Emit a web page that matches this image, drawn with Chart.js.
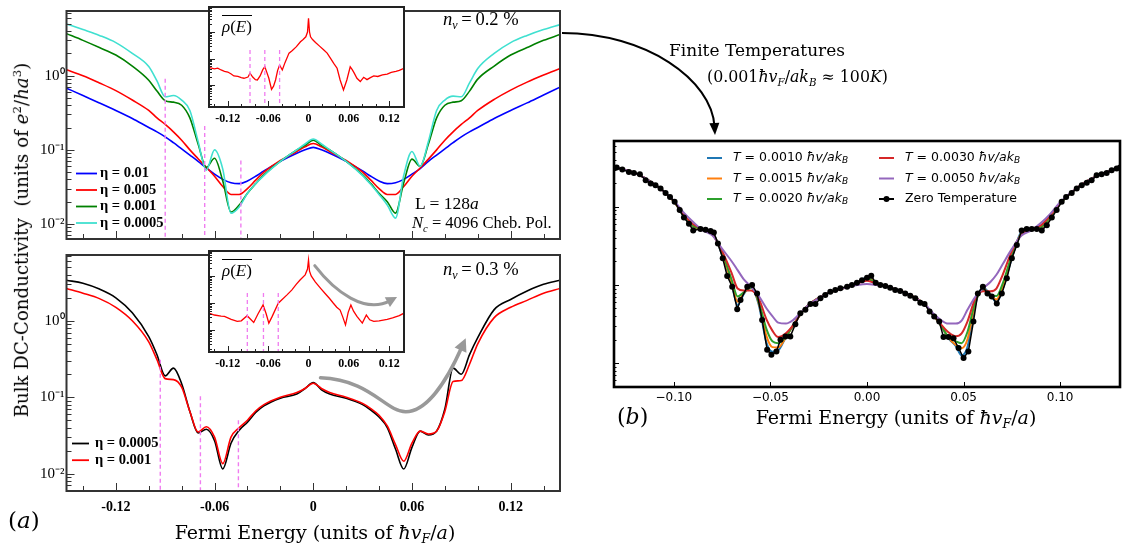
<!DOCTYPE html>
<html>
<head>
<meta charset="utf-8">
<title>Bulk DC-Conductivity</title>
<script src="https://cdn.jsdelivr.net/npm/chart.js@4.4.1/dist/chart.umd.min.js"></script>
<style>
  html, body { margin: 0; padding: 0; background: #fff; }
  #fig { position: relative; width: 1126px; height: 548px; overflow: hidden; }
  #fig canvas { position: absolute; }
  .t { position: absolute; white-space: nowrap; line-height: 1; color: #000; z-index: 5; }
  .t sub { font-size: 0.65em; vertical-align: -0.35em; line-height: 0; }
  .t sup { font-size: 0.65em; vertical-align: 0.6em; line-height: 0; }
  .serif { font-family: 'DejaVu Serif', serif; }
  .times { font-family: 'Liberation Serif', serif; }
  .bar { display: inline-block; border-top: 1px solid #000; padding-top: 2px; }
</style>
</head>
<body>
<div id="fig">
  <canvas id="condHigh" width="564" height="250" style="left:0;top:0"></canvas>
  <canvas id="condLow" width="564" height="280" style="left:0;top:244px"></canvas>
  <canvas id="dosHigh" width="215" height="128" style="left:195px;top:0"></canvas>
  <canvas id="dosLow" width="215" height="128" style="left:195px;top:244px"></canvas>
  <canvas id="thermal" width="564" height="548" style="left:562px;top:0"></canvas>

  <div class="t serif" style="left:-208px;top:231px;width:460px;text-align:center;font-size:18.2px;transform:rotate(-90deg)">Bulk DC-Conductivity&nbsp; (units of <i>e</i><sup>2</sup>/<i>ha</i><sup>3</sup>)</div>
  <div class="t serif" style="left:115px;top:523px;width:400px;text-align:center;font-size:19px">Fermi Energy (units of <i>ħv</i><sub><i>F</i></sub>/<i>a</i>)</div>
  <div class="t serif" style="left:8px;top:509px;font-size:23px">(<i>a</i>)</div>
  <div class="t serif" style="left:696px;top:408px;width:400px;text-align:center;font-size:19px">Fermi Energy (units of <i>ħv</i><sub><i>F</i></sub>/<i>a</i>)</div>
  <div class="t serif" style="left:617px;top:406px;font-size:22px">(<i>b</i>)</div>

  <div class="t times" style="left:443px;top:10px;font-size:18.5px"><i>n</i><sub><i>v</i></sub>&thinsp;=&thinsp;0.2 %</div>
  <div class="t times" style="left:443px;top:260px;font-size:18.5px"><i>n</i><sub><i>v</i></sub>&thinsp;=&thinsp;0.3 %</div>
  <div class="t times" style="left:415px;top:195px;font-size:17.5px">L = 128<i>a</i></div>
  <div class="t times" style="left:412px;top:215px;font-size:16.5px"><i>N</i><sub><i>c</i></sub> = 4096 Cheb. Pol.</div>
  <div class="t times" style="left:222px;top:15px;font-size:17px"><span class="bar"><i>ρ</i>(<i>E</i>)</span></div>
  <div class="t times" style="left:222px;top:259px;font-size:17px"><span class="bar"><i>ρ</i>(<i>E</i>)</span></div>

  <div class="t serif" style="left:669px;top:42px;font-size:17px">Finite Temperatures</div>
  <div class="t serif" style="left:707px;top:69px;font-size:15.8px">(0.001<i>ħv</i><sub><i>F</i></sub>/<i>ak</i><sub><i>B</i></sub> ≈ 100<i>K</i>)</div>
</div>
<script>
// Fermi energy grid shared by the conductivity curves of panel (a)
const energyA = [-0.15, -0.14, -0.13, -0.12, -0.11, -0.10,
  -0.095, -0.09, -0.085, -0.08, -0.075, -0.07, -0.065, -0.06, -0.055, -0.05, -0.045, -0.04, -0.035, -0.03,
  -0.02, -0.01, -0.005, 0, 0.005, 0.01, 0.02,
  0.03, 0.035, 0.04, 0.045, 0.05, 0.055, 0.06, 0.065, 0.07, 0.075, 0.08, 0.085, 0.09, 0.095,
  0.10, 0.11, 0.12, 0.13, 0.14, 0.15];

// n_v = 0.2 %, four values of the broadening eta
const sigmaEta01 = [0.68, 0.54, 0.43, 0.34, 0.265, 0.2,
  0.175, 0.15, 0.125, 0.103, 0.085, 0.07, 0.057, 0.047, 0.04, 0.036, 0.035, 0.038, 0.044, 0.052,
  0.07, 0.09, 0.1, 0.108, 0.1, 0.09, 0.07,
  0.052, 0.044, 0.038, 0.035, 0.036, 0.04, 0.047, 0.056, 0.07, 0.085, 0.103, 0.125, 0.15, 0.175,
  0.2, 0.265, 0.34, 0.43, 0.55, 0.7];
const sigmaEta005 = [1.2, 1.0, 0.8, 0.63, 0.47, 0.34,
  0.27, 0.22, 0.175, 0.135, 0.1, 0.076, 0.058, 0.044, 0.032, 0.025, 0.025, 0.03, 0.039, 0.05,
  0.072, 0.095, 0.11, 0.122, 0.11, 0.095, 0.072,
  0.05, 0.039, 0.03, 0.025, 0.025, 0.032, 0.044, 0.057, 0.075, 0.1, 0.135, 0.175, 0.22, 0.27,
  0.34, 0.48, 0.64, 0.82, 1.02, 1.25];
const sigmaEta001 = [3.7, 3.0, 2.4, 1.9, 1.35, 0.87,
  0.62, 0.46, 0.44, 0.4, 0.27, 0.12, 0.058, 0.077, 0.038, 0.0145, 0.018, 0.026, 0.035, 0.046,
  0.07, 0.1, 0.115, 0.135, 0.115, 0.1, 0.07,
  0.046, 0.035, 0.026, 0.02, 0.014, 0.036, 0.075, 0.06, 0.12, 0.27, 0.4, 0.44, 0.46, 0.62,
  0.9, 1.35, 1.9, 2.4, 3.0, 3.6];
const sigmaEta0005 = [5.0, 4.2, 3.5, 2.8, 2.0, 1.33,
  0.85, 0.52, 0.54, 0.47, 0.34, 0.13, 0.053, 0.1, 0.055, 0.014, 0.017, 0.026, 0.035, 0.045,
  0.07, 0.1, 0.12, 0.14, 0.12, 0.1, 0.07,
  0.045, 0.034, 0.025, 0.018, 0.012, 0.045, 0.095, 0.06, 0.13, 0.34, 0.47, 0.53, 0.52, 0.8,
  1.25, 2.0, 2.8, 3.5, 4.2, 4.9];

// n_v = 0.3 %
const sigmaLowEta0005 = [3.4, 3.1, 2.6, 2.0, 1.27, 0.62,
  0.36, 0.19, 0.24, 0.15, 0.065, 0.034, 0.038, 0.027, 0.0115, 0.025, 0.037, 0.047, 0.063, 0.077,
  0.097, 0.11, 0.13, 0.155, 0.125, 0.11, 0.097,
  0.08, 0.068, 0.055, 0.04, 0.021, 0.0115, 0.022, 0.036, 0.032, 0.036, 0.07, 0.24, 0.2, 0.36,
  0.6, 1.4, 1.9, 2.45, 3.0, 3.4];
const sigmaLowEta001 = [2.65, 2.3, 1.95, 1.5, 1.0, 0.53,
  0.31, 0.175, 0.17, 0.135, 0.065, 0.035, 0.041, 0.03, 0.0135, 0.03, 0.04, 0.05, 0.066, 0.08,
  0.1, 0.115, 0.13, 0.152, 0.13, 0.115, 0.1,
  0.083, 0.071, 0.058, 0.042, 0.024, 0.0145, 0.025, 0.036, 0.033, 0.036, 0.065, 0.16, 0.165, 0.27,
  0.5, 1.1, 1.5, 1.85, 2.3, 2.65];

// averaged density of states shown in the insets
const dosHighE = [-0.147, -0.14, -0.135, -0.13, -0.125, -0.12, -0.115, -0.111, -0.105, -0.1, -0.096, -0.09,
  -0.087, -0.083, -0.079, -0.076, -0.072, -0.068, -0.065, -0.062, -0.059, -0.055, -0.052, -0.049,
  -0.046, -0.043, -0.039, -0.035, -0.029, -0.024, -0.018, -0.012, -0.008, -0.004, -0.0015, 0,
  0.0015, 0.003, 0.006, 0.0104, 0.016, 0.022, 0.0277, 0.033, 0.0375, 0.0425, 0.047, 0.052, 0.057,
  0.062, 0.065, 0.068, 0.072, 0.077, 0.082, 0.087, 0.092, 0.097, 0.103, 0.11, 0.117, 0.123, 0.13,
  0.135, 0.142];
const dosHighRho = [0.045, 0.041, 0.043, 0.037, 0.033, 0.031, 0.026, 0.022, 0.021, 0.019, 0.018, 0.02,
  0.028, 0.02, 0.016, 0.0155, 0.022, 0.038, 0.049, 0.03, 0.018, 0.0069, 0.009, 0.0155,
  0.035, 0.057, 0.037, 0.07, 0.16, 0.2, 0.28, 0.43, 0.52, 0.66, 1.0, 3.3,
  1.0, 0.66, 0.52, 0.4, 0.3, 0.22, 0.16, 0.1, 0.066, 0.043, 0.0155, 0.0065, 0.0155,
  0.049, 0.038, 0.028, 0.018, 0.0135, 0.0195, 0.016, 0.019, 0.022, 0.021, 0.024, 0.026, 0.03, 0.033,
  0.036, 0.043];
const dosLowE = [-0.147, -0.14, -0.13, -0.125, -0.115, -0.106, -0.1, -0.0913, -0.0815, -0.075, -0.0676,
  -0.063, -0.059, -0.054, -0.045, -0.04, -0.032, -0.025, -0.018, -0.0126, -0.005, -0.0015, 0,
  0.0015, 0.004, 0.01, 0.018, 0.025, 0.031, 0.037, 0.042, 0.047, 0.051, 0.055, 0.059, 0.063,
  0.067, 0.072, 0.08, 0.086, 0.091, 0.097, 0.105, 0.117, 0.125, 0.135, 0.142];
const dosLowRho = [0.041, 0.036, 0.033, 0.032, 0.025, 0.021, 0.022, 0.034, 0.019, 0.04, 0.085,
  0.04, 0.018, 0.032, 0.098, 0.13, 0.2, 0.3, 0.5, 0.71, 1.1, 1.8, 3.9,
  1.5, 1.0, 0.6, 0.35, 0.22, 0.15, 0.098, 0.07, 0.055, 0.03, 0.0155, 0.045, 0.085,
  0.05, 0.032, 0.018, 0.036, 0.024, 0.021, 0.022, 0.025, 0.028, 0.034, 0.042];

// energies marked by the dashed lines, and how high each line reaches
const vhsHigh = [-0.09, -0.066, -0.044];
const vhsHighReach = [0.91, 0.21, 0.072];
const vhsLow = [-0.093, -0.0686, -0.0455];
const vhsLowReach = [0.31, 0.103, 0.05];
const vhsDosHigh = [-0.087, -0.065, -0.043];
const vhsDosLow = [-0.091, -0.067, -0.045];
const vhsDosReach = [0.21, 0.235];

// panel (b): zero temperature conductivity
const zeroE = [-0.1296, -0.1267, -0.1233, -0.1207, -0.1176, -0.1146, -0.112, -0.1095, -0.1069, -0.1043,
  -0.102, -0.0996, -0.097, -0.0948, -0.0922, -0.09, -0.0862, -0.0836, -0.081, -0.0793,
  -0.0772, -0.0747, -0.0724, -0.0698, -0.0672, -0.0655, -0.062, -0.0595, -0.0569, -0.0543,
  -0.0517, -0.0495, -0.0469, -0.0448, -0.0422, -0.0397, -0.0371, -0.0345, -0.0319, -0.0293,
  -0.0267, -0.0241, -0.0216, -0.019, -0.0164, -0.0138, -0.0103, -0.0078, -0.0052, -0.0026,
  0, 0.0022, 0.0045, 0.0069, 0.0095, 0.012, 0.0146, 0.0172, 0.0198, 0.0224,
  0.025, 0.0276, 0.0298, 0.0324, 0.0348, 0.0374, 0.0396, 0.0422, 0.0448, 0.0474,
  0.05, 0.0525, 0.0551, 0.0574, 0.06, 0.0624, 0.0646, 0.0672, 0.0698, 0.0724,
  0.075, 0.0776, 0.0801, 0.0827, 0.0853, 0.0879, 0.0905, 0.0931, 0.0957, 0.0982,
  0.1008, 0.1031, 0.106, 0.1086, 0.1112, 0.1138, 0.1163, 0.1189, 0.1215, 0.1241,
  0.1267, 0.1293, 0.131];
const zeroSigma = [3.19, 3.0, 2.8, 2.72, 2.62, 2.19, 1.99, 1.89, 1.72, 1.51,
  1.34, 1.16, 0.91, 0.73, 0.61, 0.5, 0.52, 0.51, 0.49, 0.47,
  0.34, 0.22, 0.13, 0.095, 0.049, 0.064, 0.095, 0.1, 0.078, 0.0357,
  0.0148, 0.0128, 0.0141, 0.0199, 0.0219, 0.0219, 0.0315, 0.0435, 0.048, 0.0572,
  0.0572, 0.0676, 0.0745, 0.082, 0.086, 0.091, 0.095, 0.1, 0.107, 0.115,
  0.124, 0.131, 0.107, 0.1, 0.097, 0.092, 0.086, 0.084, 0.078, 0.073,
  0.0676, 0.0594, 0.0572, 0.0456, 0.0394, 0.034, 0.0215, 0.0215, 0.0208, 0.0156,
  0.0116, 0.0141, 0.034, 0.078, 0.095, 0.078, 0.071, 0.058, 0.078, 0.122,
  0.22, 0.324, 0.5, 0.52, 0.52, 0.52, 0.5, 0.58, 0.73, 0.91,
  1.16, 1.34, 1.51, 1.72, 1.89, 2.03, 2.19, 2.54, 2.62, 2.72,
  2.94, 3.09, 3.19];

// panel (b): finite temperature curves on a common grid
const temps = ['0.0010', '0.0015', '0.0020', '0.0030', '0.0050'];
const energyB = [-0.13, -0.12, -0.11, -0.10, -0.095, -0.09, -0.085, -0.08, -0.075, -0.07,
  -0.067, -0.064, -0.06, -0.056, -0.052, -0.049, -0.046, -0.042, -0.038, -0.034, -0.03,
  -0.02, -0.01, -0.005, 0, 0.005, 0.01, 0.02,
  0.03, 0.034, 0.038, 0.042, 0.046, 0.049, 0.052, 0.056, 0.06, 0.064, 0.067,
  0.07, 0.075, 0.08, 0.085, 0.09, 0.095, 0.10, 0.11, 0.12, 0.13];
const sigmaT0010 = [3.2, 2.7, 1.95, 1.18, 0.76, 0.55, 0.52, 0.47, 0.24, 0.1,
  0.055, 0.075, 0.098, 0.055, 0.018, 0.014, 0.0145, 0.0215, 0.031, 0.044, 0.056,
  0.079, 0.095, 0.107, 0.125, 0.106, 0.096, 0.079,
  0.056, 0.042, 0.031, 0.021, 0.0165, 0.0125, 0.016, 0.055, 0.093, 0.075, 0.06,
  0.085, 0.22, 0.48, 0.52, 0.53, 0.72, 1.1, 1.85, 2.55, 3.1];
const sigmaT0015 = [3.2, 2.7, 1.95, 1.18, 0.77, 0.56, 0.52, 0.46, 0.25, 0.105,
  0.061, 0.078, 0.095, 0.058, 0.022, 0.016, 0.0158, 0.0215, 0.031, 0.044, 0.056,
  0.079, 0.095, 0.107, 0.122, 0.106, 0.096, 0.079,
  0.056, 0.042, 0.031, 0.0215, 0.017, 0.0155, 0.02, 0.058, 0.09, 0.073, 0.065,
  0.09, 0.23, 0.46, 0.52, 0.54, 0.73, 1.1, 1.85, 2.55, 3.1];
const sigmaT0020 = [3.2, 2.7, 1.95, 1.18, 0.78, 0.57, 0.52, 0.45, 0.26, 0.115,
  0.071, 0.08, 0.092, 0.06, 0.027, 0.019, 0.018, 0.022, 0.031, 0.044, 0.056,
  0.079, 0.095, 0.106, 0.12, 0.105, 0.096, 0.079,
  0.056, 0.042, 0.031, 0.022, 0.019, 0.018, 0.025, 0.06, 0.087, 0.075, 0.072,
  0.1, 0.24, 0.45, 0.52, 0.55, 0.75, 1.1, 1.85, 2.55, 3.1];
const sigmaT0030 = [3.2, 2.7, 1.95, 1.18, 0.8, 0.6, 0.52, 0.44, 0.27, 0.14,
  0.09, 0.085, 0.085, 0.066, 0.036, 0.026, 0.0215, 0.024, 0.031, 0.044, 0.056,
  0.079, 0.095, 0.105, 0.113, 0.104, 0.096, 0.079,
  0.056, 0.042, 0.032, 0.025, 0.022, 0.024, 0.034, 0.066, 0.083, 0.083, 0.09,
  0.13, 0.27, 0.44, 0.52, 0.58, 0.78, 1.12, 1.85, 2.55, 3.1];
const sigmaT0050 = [3.2, 2.7, 1.95, 1.2, 0.85, 0.64, 0.5, 0.43, 0.29, 0.2,
  0.155, 0.12, 0.095, 0.072, 0.05, 0.04, 0.033, 0.032, 0.036, 0.045, 0.056,
  0.079, 0.094, 0.1, 0.103, 0.1, 0.096, 0.079,
  0.056, 0.044, 0.036, 0.032, 0.032, 0.035, 0.048, 0.07, 0.09, 0.11, 0.135,
  0.18, 0.29, 0.43, 0.5, 0.62, 0.82, 1.15, 1.85, 2.55, 3.1];

// tick marks and labels
const ticksA = [-0.12, -0.06, 0, 0.06, 0.12];
const minorA = [-0.14, -0.10, -0.08, -0.04, -0.02, 0.02, 0.04, 0.08, 0.10, 0.14];
const ticksB = [-0.10, -0.05, 0, 0.05, 0.10];
const decades = [0.01, 0.1, 1];
const decadeLabels = { '0.01': '10⁻²', '0.1': '10⁻¹', '1': '10⁰' };

// axis ranges
const yHigh = [0.00627, 7.47];
const yLow = [0.00592, 7.26];
const yDosHigh = [0.00148, 8.8];
const yDosLow = [0.00154, 8.4];
const yThermal = [0.00494, 6.97];

function curve(label, xs, ys, color, order, width) {
  return {
    label, order,
    data: xs.map((x, i) => ({ x, y: ys[i] })),
    borderColor: color, backgroundColor: color,
    borderWidth: width || 1.6, pointRadius: 0,
    cubicInterpolationMode: 'monotone', fill: false
  };
}

function marker(x, reach, floor) {
  return {
    label: '', order: 0,
    data: [{ x, y: reach }, { x, y: floor }],
    borderColor: '#f07cf0', borderWidth: 1.4, borderDash: [4, 3], pointRadius: 0
  };
}

function energyAxis(min, max, ticks, font, padding, height, fmt) {
  if (!ticks) return { type: 'linear', min, max, display: false };
  return {
    type: 'linear', min, max,
    afterBuildTicks: s => { s.ticks = ticks.map(value => ({ value })); },
    afterFit: s => { s.height = height; },
    grid: { display: false, drawTicks: false }, border: { display: false },
    ticks: { font, padding, color: '#000', maxRotation: 0, autoSkip: false, callback: fmt }
  };
}

function logAxis(range) {
  return {
    type: 'logarithmic', min: range[0], max: range[1],
    afterBuildTicks: s => { s.ticks = decades.filter(v => v >= range[0] && v <= range[1]).map(value => ({ value })); },
    afterFit: s => { s.width = 66.5; },
    grid: { display: false, drawTicks: false }, border: { display: false },
    ticks: { font: { family: 'Liberation Serif', size: 15 }, color: '#000', padding: 2, callback: v => decadeLabels[String(v)] }
  };
}

const plainLabel = v => (v === 0 ? '0' : v.toFixed(2));

function drawLabel(ctx, text, x, y, L) {
  const m = text.match(/^T( = [\d.]+ )(ħv\/ak)_B$/);
  const parts = m
    ? [['T', 'italic ' + L.font, 0], [m[1], L.font, 0], [m[2], 'italic ' + L.font, 0], ['B', 'italic ' + L.small, 3]]
    : [[text, L.font, 0]];
  parts.forEach(([t, f, dy]) => {
    ctx.font = f;
    ctx.fillText(t, x, y + dy);
    x += ctx.measureText(t).width;
  });
}

function drawLegend(chart, L) {
  const ctx = chart.ctx;
  let n = 0;
  chart.data.datasets.forEach(ds => {
    if (!ds.label) return;
    const col = Math.floor(n / L.perCol), row = n % L.perCol;
    n++;
    const x = L.x + col * (L.colDx || 0), y = L.y + row * L.dy;
    ctx.setLineDash([]);
    ctx.strokeStyle = ds.borderColor;
    ctx.lineWidth = L.lineWidth;
    ctx.beginPath(); ctx.moveTo(x, y); ctx.lineTo(x + L.len, y); ctx.stroke();
    if (ds.pointRadius) {
      ctx.fillStyle = ds.borderColor;
      ctx.beginPath(); ctx.arc(x + L.len / 2, y, ds.pointRadius, 0, 2 * Math.PI); ctx.fill();
    }
    ctx.fillStyle = '#000';
    ctx.textBaseline = 'middle';
    ctx.textAlign = 'left';
    drawLabel(ctx, ds.label, x + L.gap, y, L);
  });
}

// bezier chain: start point, then (control, control, end) triples; filled head at the end
function drawArrow(ctx, ar, toPx) {
  const p = ar.pts.map(toPx);
  const n = p.length, tip = p[n - 1], prev = p[n - 2];
  const d = Math.hypot(tip[0] - prev[0], tip[1] - prev[1]);
  const ux = (tip[0] - prev[0]) / d, uy = (tip[1] - prev[1]) / d;
  const end = [tip[0] - ux * ar.head[0] * 0.7, tip[1] - uy * ar.head[0] * 0.7];
  ctx.setLineDash([]);
  ctx.strokeStyle = ar.color; ctx.fillStyle = ar.color;
  ctx.lineWidth = ar.width; ctx.lineCap = 'round';
  ctx.beginPath(); ctx.moveTo(p[0][0], p[0][1]);
  for (let i = 1; i + 2 < n; i += 3) {
    const e = i + 2 === n - 1 ? end : p[i + 2];
    ctx.bezierCurveTo(p[i][0], p[i][1], p[i + 1][0], p[i + 1][1], e[0], e[1]);
  }
  ctx.stroke();
  const bx = tip[0] - ux * ar.head[0], by = tip[1] - uy * ar.head[0];
  ctx.beginPath(); ctx.moveTo(tip[0], tip[1]);
  ctx.lineTo(bx - uy * ar.head[1], by + ux * ar.head[1]);
  ctx.lineTo(bx + uy * ar.head[1], by - ux * ar.head[1]);
  ctx.closePath(); ctx.fill();
}

// frame, inward ticks, legend and arrows for one panel
function decorations(cfg) {
  return {
    id: 'decorations',
    beforeDatasetsDraw(chart) {
      if (!cfg.fill) return;
      const { ctx, chartArea: a } = chart;
      ctx.save();
      ctx.fillStyle = cfg.fill;
      ctx.fillRect(a.left, a.top, a.width, a.height);
      ctx.restore();
    },
    afterDatasetsDraw(chart) {
      const { ctx, chartArea: a, scales } = chart;
      const sx = scales.x, sy = scales.y;
      ctx.save();
      ctx.strokeStyle = cfg.frame;
      ctx.lineWidth = 1;
      const xTick = (v, len) => {
        const p = Math.round(sx.getPixelForValue(v)) + 0.5;
        ctx.beginPath(); ctx.moveTo(p, a.bottom); ctx.lineTo(p, a.bottom - len); ctx.stroke();
      };
      cfg.xMajor.forEach(v => xTick(v, cfg.tick[0]));
      (cfg.xMinor || []).forEach(v => xTick(v, cfg.tick[1]));
      for (let dec = -4; dec <= 1; dec++) {
        for (let k = 1; k <= 9; k++) {
          const v = k * Math.pow(10, dec);
          if (v < sy.min || v > sy.max) continue;
          const p = Math.round(sy.getPixelForValue(v)) + 0.5;
          const len = k === 1 ? cfg.tick[0] : cfg.tick[1];
          ctx.beginPath(); ctx.moveTo(a.left, p); ctx.lineTo(a.left + len, p); ctx.stroke();
        }
      }
      ctx.lineWidth = cfg.frameWidth;
      ctx.strokeRect(a.left, a.top, a.width, a.height);
      if (cfg.legend) drawLegend(chart, cfg.legend);
      (cfg.arrows || []).forEach(ar => drawArrow(ctx, ar,
        ar.pixel ? (q => q) : (q => [sx.getPixelForValue(q[0]), sy.getPixelForValue(q[1])])));
      ctx.restore();
    }
  };
}

const baseOptions = (padding, scales) => ({
  responsive: false, animation: false,
  layout: { padding },
  plugins: { legend: { display: false }, tooltip: { enabled: false } },
  scales
});

const etaLegend = { perCol: 4, lineWidth: 1.8, font: 'bold 14.5px Liberation Serif' };

/* Panel (a), n_v = 0.2 % */
new Chart(document.getElementById('condHigh'), {
  type: 'line',
  data: {
    datasets: [
      curve('η = 0.01', energyA, sigmaEta01, '#0000ff', 4),
      curve('η = 0.005', energyA, sigmaEta005, '#ff0000', 3),
      curve('η = 0.001', energyA, sigmaEta001, '#008000', 2),
      curve('η = 0.0005', energyA, sigmaEta0005, '#40e0d0', 1),
      ...vhsHigh.map((e, i) => marker(e, vhsHighReach[i], yHigh[0]))
    ]
  },
  options: baseOptions({ top: 3, right: 4, bottom: 4, left: 0 }, {
    x: energyAxis(-0.15, 0.15, null),
    y: logAxis(yHigh)
  }),
  plugins: [decorations({
    frame: '#333', frameWidth: 2, tick: [8, 5], xMajor: ticksA, xMinor: minorA,
    legend: Object.assign({ x: 76, y: 173.5, dy: 16.5, len: 21, gap: 24 }, etaLegend)
  })]
});

/* Panel (a), n_v = 0.3 % */
new Chart(document.getElementById('condLow'), {
  type: 'line',
  data: {
    datasets: [
      curve('η = 0.0005', energyA, sigmaLowEta0005, '#000000', 2),
      curve('η = 0.001', energyA, sigmaLowEta001, '#ff0000', 1),
      ...vhsLow.map((e, i) => marker(e, vhsLowReach[i], yLow[0]))
    ]
  },
  options: baseOptions({ top: 3, right: 4, bottom: 0, left: 0 }, {
    x: energyAxis(-0.15, 0.15, ticksA, { family: 'Liberation Serif', size: 14, weight: 'bold' }, 8, 33, plainLabel),
    y: logAxis(yLow)
  }),
  plugins: [decorations({
    frame: '#333', frameWidth: 2, tick: [8, 5], xMajor: ticksA, xMinor: minorA,
    legend: Object.assign({ x: 72, y: 199.5, dy: 16.7, len: 17, gap: 23 }, etaLegend),
    arrows: [{
      color: '#999999', width: 3.5, head: [13, 6.5],
      pts: [[0.0044, 0.179], [0.0349, 0.169], [0.044, 0.0646], [0.0562, 0.0646],
            [0.0684, 0.0646], [0.0805, 0.150], [0.0927, 0.592]]
    }]
  })]
});

/* Insets: averaged density of states */
function dosChart(id, energies, rho, vhs, reach, range, height, arrows) {
  return new Chart(document.getElementById(id), {
    type: 'line',
    data: {
      datasets: [
        { label: '', order: 1, data: energies.map((x, i) => ({ x, y: rho[i] })),
          borderColor: '#ff0000', borderWidth: 1.3, pointRadius: 0, tension: 0 },
        ...vhs.map(e => Object.assign(marker(e, reach, range[0]), { borderWidth: 1.3 }))
      ]
    },
    options: baseOptions({ top: 7, right: 6, bottom: 0, left: 14 }, {
      x: energyAxis(-0.148, 0.142, ticksA, { family: 'Liberation Serif', size: 12, weight: 'bold' }, 5, height, plainLabel),
      y: { type: 'logarithmic', min: range[0], max: range[1], display: false }
    }),
    plugins: [decorations({
      fill: '#ffffff', frame: '#222', frameWidth: 2, tick: [6, 3], xMajor: ticksA, xMinor: minorA, arrows
    })]
  });
}
dosChart('dosHigh', dosHighE, dosHighRho, vhsDosHigh, vhsDosReach[0], yDosHigh, 21);
dosChart('dosLow', dosLowE, dosLowRho, vhsDosLow, vhsDosReach[1], yDosLow, 20, [{
  color: '#999999', width: 3, head: [11, 5.5],
  pts: [[0.0093, 2.41], [0.0394, 0.255], [0.084, 0.039], [0.1317, 0.167]]
}]);

/* Panel (b): finite temperatures */
const thermalColors = ['#1f77b4', '#ff7f0e', '#2ca02c', '#d62728', '#9467bd'];
const thermalSeries = [sigmaT0010, sigmaT0015, sigmaT0020, sigmaT0030, sigmaT0050];
new Chart(document.getElementById('thermal'), {
  type: 'line',
  data: {
    datasets: [
      ...temps.map((t, i) => curve('T = ' + t + ' ħv/ak_B', energyB, thermalSeries[i], thermalColors[i], 5 - i, 2)),
      { label: 'Zero Temperature', order: 0, data: zeroE.map((x, i) => ({ x, y: zeroSigma[i] })),
        borderColor: '#000000', backgroundColor: '#000000', borderWidth: 1.5,
        pointRadius: 3, pointBorderWidth: 0, tension: 0 }
    ]
  },
  options: baseOptions({ top: 141, right: 6, bottom: 141, left: 52 }, {
    x: energyAxis(-0.131, 0.131, ticksB, { family: 'DejaVu Sans', size: 12 }, 4, 20,
      v => v.toFixed(2).replace('-', '−')),
    y: { type: 'logarithmic', min: yThermal[0], max: yThermal[1], display: false }
  }),
  plugins: [decorations({
    frame: '#000', frameWidth: 2.6, tick: [5, 2.5], xMajor: ticksB,
    legend: { x: 145, y: 158, dy: 20.5, colDx: 172, perCol: 3, len: 15, gap: 26, lineWidth: 2,
              font: '12.5px DejaVu Sans', small: '9px DejaVu Sans' },
    arrows: [{ pixel: true, color: '#000', width: 2, head: [12, 5],
               pts: [[0, 33], [84.5, 33], [150, 80], [153, 135]] }]
  })]
});
</script>
</body>
</html>
